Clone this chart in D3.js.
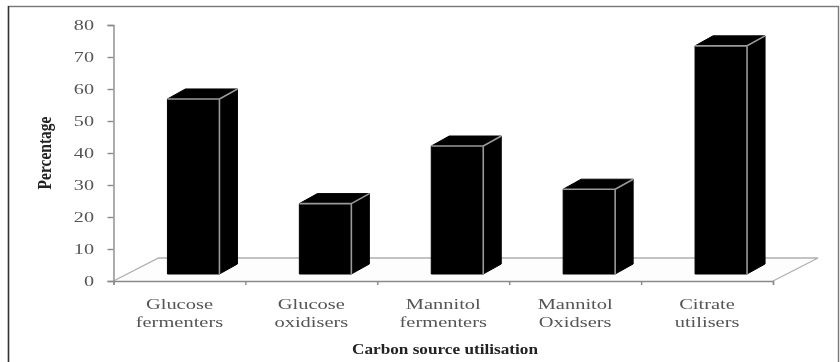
<!DOCTYPE html>
<html><head><meta charset="utf-8">
<script src="https://d3js.org/d3.v7.min.js"></script>
<style>
html,body{margin:0;padding:0;background:#fff;overflow:hidden}
svg{display:block;filter:blur(0.6px)}
text{font-family:"Liberation Serif",serif}
</style></head><body>
<svg id="c" width="840" height="362"></svg>
<script>
const categories=[["Glucose","fermenters"],["Glucose","oxidisers"],["Mannitol","fermenters"],["Mannitol","Oxidsers"],["Citrate","utilisers"]];
const values=[54.7,22,40,26.5,71.3];
const yTicks=[0,10,20,30,40,50,60,70,80];
const xTitle="Carbon source utilisation";
const yTitle="Percentage";

const svg=d3.select("#c");
const x0=113.5,x1=773,y0=281,yTop=25;
const depthX=18,depthY=10,floorX=45,floorY=23,liftFront=7,barW=52,barShift=14;
const x=d3.scaleBand().domain(d3.range(categories.length)).range([x0,x1]);
const y=d3.scaleLinear().domain([0,80]).range([y0,yTop]);

// page frame
svg.append("rect").attr("x",8.5).attr("y",6.5).attr("width",830).attr("height",370)
  .attr("fill","#fff").attr("stroke","#777").attr("stroke-width",1.4);
svg.append("line").attr("x1",8.5).attr("x2",8.5).attr("y1",6).attr("y2",362).attr("stroke","#333").attr("stroke-width",1.4);

// floor
svg.append("path").attr("fill","#fdfdfd").attr("stroke","#b0b0b0").attr("stroke-width",1.4)
  .attr("d",`M${x0},${y0}L${x0+floorX},${y0-floorY}L${x1+floorX},${y0-floorY}L${x1},${y0}`);

// axes
const yAxis=d3.axisLeft(y).tickValues(yTicks).tickSize(6).tickPadding(9);
const gy=svg.append("g").attr("transform",`translate(${x0},0)`).call(yAxis);
const xTickScale=d3.scalePoint().domain(d3.range(categories.length+1)).range([x0,x1]);
const xAxis=d3.axisBottom(xTickScale).tickSize(4).tickFormat("");
const gx=svg.append("g").attr("transform",`translate(0,${y0})`).call(xAxis);
[gy,gx].forEach(g=>{g.selectAll("line,path").attr("stroke","#8a8a8a").attr("stroke-width",1.4);});
gy.selectAll("text").attr("font-size",15.5).attr("fill","#555").attr("font-family","Liberation Serif")
  .attr("transform","scale(1.3,1)");

// bars
const bars=svg.append("g").selectAll("g").data(values).join("g");
const L=i=>x(i)+x.bandwidth()/2+barShift-barW/2, R=i=>L(i)+barW;
const B=y0-liftFront, T=v=>y(v)-liftFront;
bars.append("path").attr("fill","#000").attr("stroke","#000").attr("stroke-width",1)
  .attr("d",(v,i)=>`M${L(i)},${T(v)}L${L(i)+depthX},${T(v)-depthY}L${R(i)+depthX},${T(v)-depthY}L${R(i)+depthX},${B-depthY}L${R(i)},${B}L${L(i)},${B}Z`);
bars.append("path").attr("fill","none").attr("stroke","#999").attr("stroke-width",1.6)
  .attr("d",(v,i)=>`M${R(i)},${B}L${R(i)},${T(v)}L${R(i)+depthX},${T(v)-depthY} M${L(i)},${T(v)}L${R(i)},${T(v)}`);

// category labels
const labels=svg.append("g").selectAll("text").data(categories).join("text")
  .attr("text-anchor","middle").attr("font-size",15.5).attr("fill","#555")
  .attr("transform",(d,i)=>`translate(${x(i)+x.bandwidth()/2},0) scale(1.32,1)`);
labels.selectAll("tspan").data(d=>d.map((t,j)=>({t,j}))).join("tspan")
  .attr("x",0).attr("y",d=>309+d.j*18).text(d=>d.t);

// titles
svg.append("text").attr("x",445).attr("y",354).attr("text-anchor","middle")
  .attr("font-size",15).attr("font-weight","bold").attr("fill","#222")
  .attr("textLength",186).attr("lengthAdjust","spacingAndGlyphs").text(xTitle);
svg.append("text").attr("transform","translate(51,153) rotate(-90)").attr("text-anchor","middle")
  .attr("font-size",18).attr("font-weight","bold").attr("fill","#222")
  .attr("textLength",73).attr("lengthAdjust","spacingAndGlyphs").text(yTitle);
</script></body></html>
